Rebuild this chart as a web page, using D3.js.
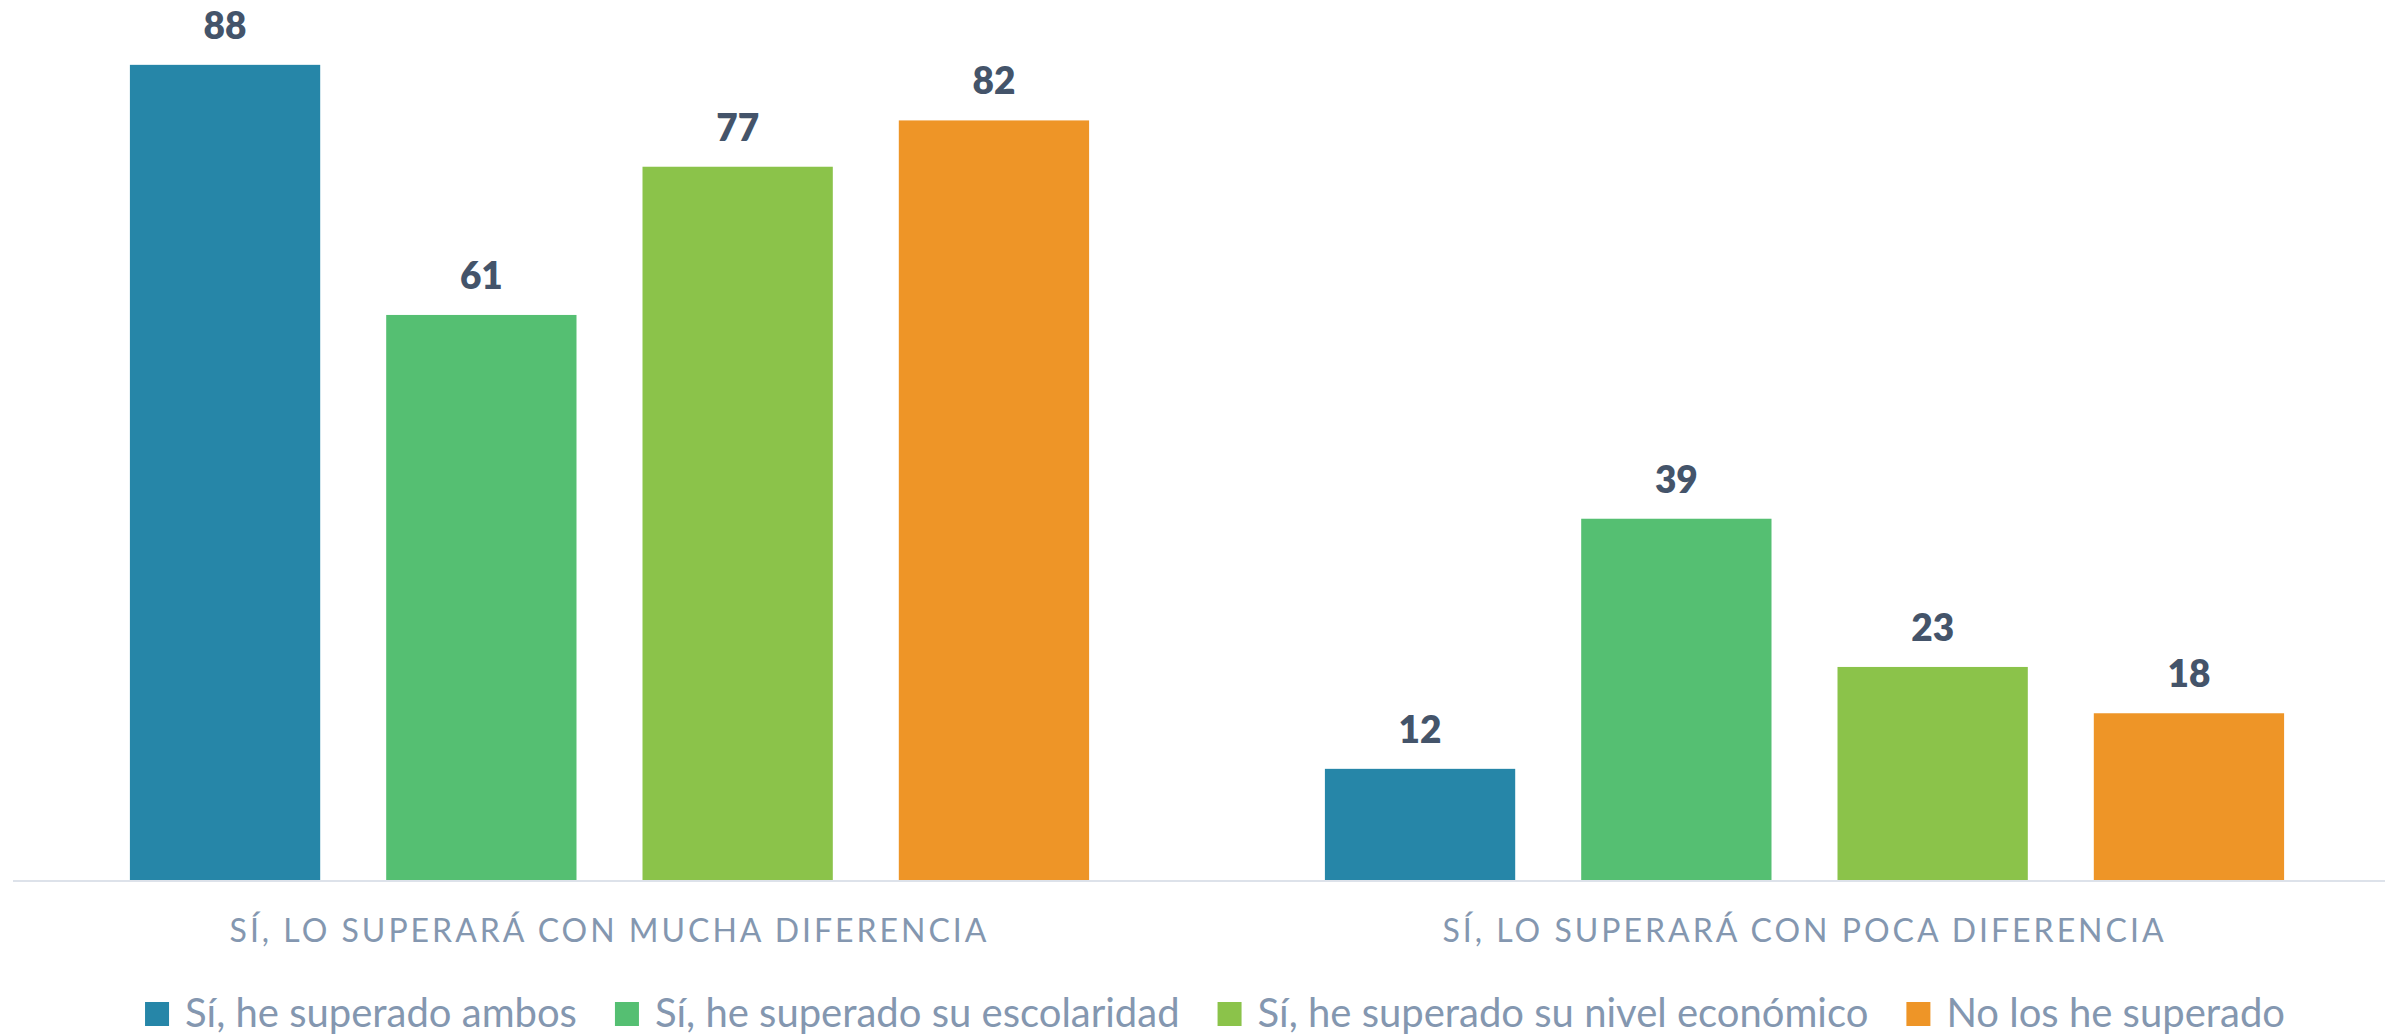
<!DOCTYPE html>
<html>
<head>
<meta charset="utf-8">
<script src="https://cdn.jsdelivr.net/npm/d3@7"></script>
<style>
  html, body { margin: 0; padding: 0; background: #ffffff; }
  svg { display: block; }
</style>
</head>
<body>
<script>
// Categories along the x axis
const categories = [
  "SÍ, LO SUPERARÁ CON MUCHA DIFERENCIA",
  "SÍ, LO SUPERARÁ CON POCA DIFERENCIA"
];

// Series (legend entries)
const seriesNames = [
  "Sí, he superado ambos",
  "Sí, he superado su escolaridad",
  "Sí, he superado su nivel económico",
  "No los he superado"
];

// Values for each series, one per category
const ambos = [88, 12];
const escolaridad = [61, 39];
const nivelEconomico = [77, 23];
const noSuperado = [82, 18];

const seriesValues = [ambos, escolaridad, nivelEconomico, noSuperado];
const seriesColors = ["#2686a8", "#55bf72", "#8bc34a", "#ee9527"];

const W = 2385, H = 1035;
const baseY = 880;

const svg = d3.select("body").append("svg")
  .attr("width", W).attr("height", H);

const x0 = d3.scaleBand().domain(categories).range([12, 2402]).padding(0);
const x1 = d3.scaleBand().domain(seriesNames)
  .range([0, x0.bandwidth()])
  .paddingInner(0.2575).paddingOuter(0.46);
const y = d3.scaleLinear().domain([0, 95]).range([baseY, 0]);

// Flattened rows: one per bar
const rows = [];
categories.forEach((c, ci) => {
  seriesNames.forEach((s, si) => {
    rows.push({ cat: c, series: s, value: seriesValues[si][ci], color: seriesColors[si] });
  });
});

svg.append("g").attr("class", "bars")
  .selectAll("rect").data(rows).join("rect")
  .attr("x", d => x0(d.cat) + x1(d.series))
  .attr("y", d => y(d.value))
  .attr("width", x1.bandwidth())
  .attr("height", d => y(0) - y(d.value))
  .attr("fill", d => d.color);

// Value labels above bars
svg.append("g").selectAll("text").data(rows).join("text")
  .attr("x", d => x0(d.cat) + x1(d.series) + x1.bandwidth() / 2)
  .attr("y", d => y(d.value) - 26)
  .attr("text-anchor", "middle")
  .attr("font-family", "Lato, 'Open Sans', sans-serif")
  .attr("font-weight", 800)
  .attr("font-size", 37)
  .attr("fill", "#44546a")
  .text(d => d.value);

// Baseline
svg.append("line")
  .attr("x1", 13).attr("x2", W)
  .attr("y1", baseY + 1).attr("y2", baseY + 1)
  .attr("stroke", "#dde2ea").attr("stroke-width", 2);

// Category axis labels
const xAxis = d3.axisBottom(x0).tickSize(0).tickPadding(0);
const axisG = svg.append("g").attr("transform", `translate(0,${baseY})`).call(xAxis);
axisG.select(".domain").remove();
axisG.selectAll(".tick text")
  .attr("y", 62)
  .attr("dy", 0)
  .attr("font-family", "Lato, 'Open Sans', sans-serif")
  .attr("font-weight", 400)
  .attr("font-size", 32)
  .attr("letter-spacing", "3px")
  .attr("fill", "#8497b0");

// Legend
const legend = svg.append("g").attr("class", "legend");
const legendY = 1014;
const sq = 24, gapText = 16, gapItem = 38;
const items = legend.selectAll("g").data(seriesNames).join("g");
items.append("rect")
  .attr("width", sq).attr("height", sq)
  .attr("y", legendY - sq / 2)
  .attr("fill", (d, i) => seriesColors[i]);
items.append("text")
  .attr("x", sq + gapText)
  .attr("y", legendY + 13)
  .attr("font-family", "Lato, 'Open Sans', sans-serif")
  .attr("font-size", 40)
  .attr("fill", "#8497b0")
  .text(d => d);

const widths = [];
items.each(function () {
  const t = d3.select(this).select("text").node().getComputedTextLength();
  widths.push(sq + gapText + t);
});
const total = d3.sum(widths) + gapItem * (widths.length - 1);
const center = 1215;
let offset = center - total / 2;
items.attr("transform", (d, i) => {
  const tx = offset;
  offset += widths[i] + gapItem;
  return `translate(${tx},0)`;
});
</script>
</body>
</html>
